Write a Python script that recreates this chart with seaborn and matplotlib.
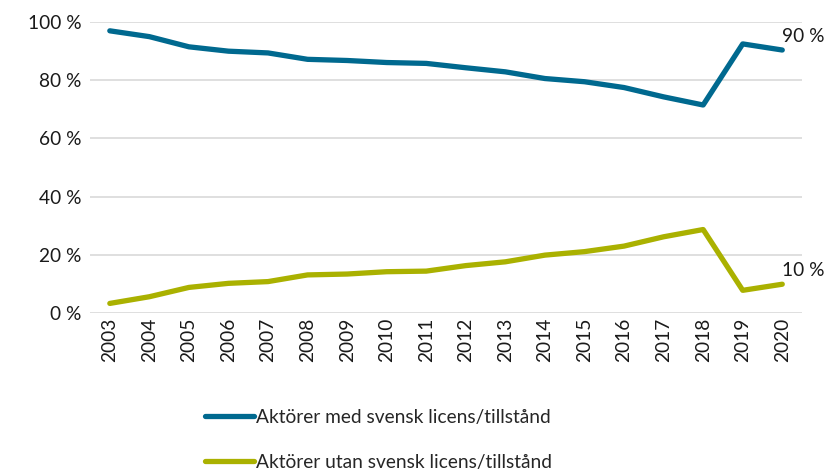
import matplotlib
matplotlib.use('Agg')
import matplotlib.pyplot as plt
import pandas as pd
import seaborn as sns
from matplotlib.ticker import FuncFormatter

years = [str(y) for y in range(2003, 2021)]
med_licens = [97.0, 95.0, 91.5, 90.0, 89.4, 87.2, 86.8, 86.1, 85.8, 84.3,
              82.9, 80.6, 79.5, 77.5, 74.3, 71.5, 92.5, 90.4]
utan_licens = [3.3, 5.6, 8.8, 10.2, 10.8, 13.1, 13.4, 14.2, 14.4, 16.3,
               17.6, 19.9, 21.1, 23.0, 26.2, 28.7, 7.8, 9.9]
serie_namn = ["Aktörer med svensk licens/tillstånd", "Aktörer utan svensk licens/tillstånd"]
slut_etiketter = ["90 %", "10 %"]

df = pd.DataFrame({"år": years * 2,
                   "andel": med_licens + utan_licens,
                   "serie": [serie_namn[0]] * len(years) + [serie_namn[1]] * len(years)})

sns.set_style("white")
plt.rcParams['font.family'] = ['Lato', 'DejaVu Sans']

fig = plt.figure(figsize=(8.26, 4.70), dpi=100)
ax = fig.add_axes([0.109, 0.334, 0.862, 0.619])

farger = ["#00698F", "#AAB100"]
sns.lineplot(data=df, x="år", y="andel", hue="serie", palette=farger,
             linewidth=3.8, sort=False, ax=ax, legend=False)

ax.set_ylim(0, 100)
ax.set_xlim(-0.5, len(years) - 0.5)
ax.set_yticks(range(0, 101, 20))
ax.yaxis.set_major_formatter(FuncFormatter(lambda v, p: f"{int(v)} %"))
ax.grid(axis='y', color='#D9D9D9', linewidth=1.2)
ax.grid(axis='x', visible=False)
for s in ax.spines.values():
    s.set_visible(False)
ax.tick_params(axis='both', length=0, labelsize=13.8, colors='#1a1a1a')
ax.tick_params(axis='y', pad=6)
plt.setp(ax.get_xticklabels(), rotation=90)
ax.set_xlabel("")
ax.set_ylabel("")

# etiketter vid sista punkten
for vals, lab in zip([med_licens, utan_licens], slut_etiketter):
    ax.annotate(lab, (len(years) - 1, vals[-1]), xytext=(15, 10), textcoords='offset points',
                ha='center', va='center', fontsize=13.8, color='#1a1a1a')

handles = [plt.Line2D([], [], color=c, linewidth=3.8, solid_capstyle='round') for c in farger]
fig.legend(handles, serie_namn, loc='center left', bbox_to_anchor=(0.236, 0.064),
           frameon=False, fontsize=13.8, handlelength=2.6, handletextpad=0.1,
           labelspacing=1.45, borderpad=0)

plt.savefig("out.png", dpi=100)
plt.close()
